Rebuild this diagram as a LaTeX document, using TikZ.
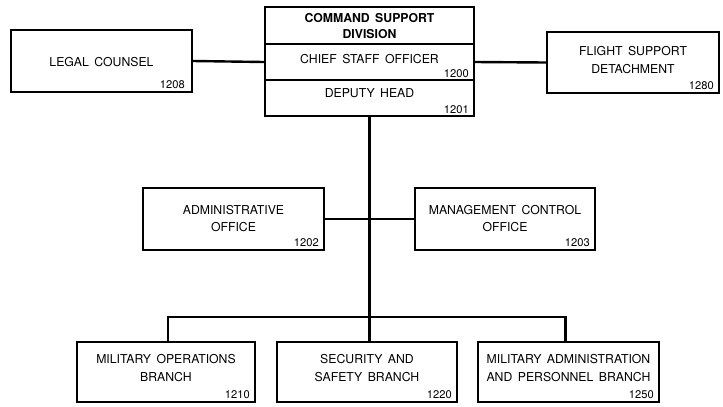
\documentclass[tikz,border=0pt]{standalone}
\usepackage{fontspec}
\setmainfont{TeX Gyre Heros}[WordSpace={1.6,1,1}]
\begin{document}
\begin{tikzpicture}[x=1bp,y=-1bp,
  box/.style={draw=black,line width=2bp,rectangle,inner sep=0pt},
  lbl/.style={align=center,inner sep=0pt,font=\fontsize{12.3}{17.5}\selectfont},
  ttl/.style={align=center,inner sep=0pt,font=\fontsize{12.3}{17}\selectfont\bfseries},
  num/.style={anchor=south east,inner sep=0pt,font=\fontsize{11.2}{12}\selectfont},
  conn/.style={draw=black,line width=2.4bp}]
\useasboundingbox (0,0) rectangle (723,406);
% top stacked box
\node[box,minimum width=209bp,minimum height=37bp] (csd) at (369.5,25.5) {};
\node[box,minimum width=209bp,minimum height=36bp] (cso) at (369.5,62) {};
\node[box,minimum width=209bp,minimum height=36bp] (dep) at (369.5,98) {};
\node[ttl] (csdt) at (369.5,26) {COMMAND SUPPORT\\DIVISION};
\node[lbl] (csot) at (369.5,59) {CHIEF STAFF OFFICER};
\node[num] (cson) at ([xshift=-6bp,yshift=3bp]cso.south east) {1200};
\node[lbl] (dept) at (369.5,93) {DEPUTY HEAD};
\node[num] (depn) at ([xshift=-6bp,yshift=3bp]dep.south east) {1201};
% side boxes
\node[box,minimum width=181bp,minimum height=62bp] (legal) at (101.5,61) {};
\node[lbl] (legalt) at (101.5,62) {LEGAL COUNSEL};
\node[num] (legaln) at ([xshift=-8bp,yshift=4bp]legal.south east) {1208};
\node[box,minimum width=172bp,minimum height=61bp] (flight) at (633,62.5) {};
\node[lbl] (flightt) at (633,60) {FLIGHT SUPPORT\\DETACHMENT};
\node[num] (flightn) at ([xshift=-6bp,yshift=4bp]flight.south east) {1280};
% middle boxes
\node[box,minimum width=181bp,minimum height=62bp] (admin) at (233.5,219) {};
\node[lbl] (admint) at (233.5,218.5) {ADMINISTRATIVE\\OFFICE};
\node[num] (adminn) at ([xshift=-6bp,yshift=4bp]admin.south east) {1202};
\node[box,minimum width=180bp,minimum height=62bp] (mgmt) at (505,219) {};
\node[lbl] (mgmtt) at (505,218.5) {MANAGEMENT CONTROL\\OFFICE};
\node[num] (mgmtn) at ([xshift=-6bp,yshift=4bp]mgmt.south east) {1203};
% bottom boxes
\node[box,minimum width=178bp,minimum height=60bp] (milops) at (166,372) {};
\node[lbl] (milopst) at (166,368) {MILITARY OPERATIONS\\BRANCH};
\node[num] (milopsn) at ([xshift=-6bp,yshift=4bp]milops.south east) {1210};
\node[box,minimum width=180bp,minimum height=60bp] (sec) at (367,372) {};
\node[lbl] (sect) at (367,368) {SECURITY AND\\SAFETY BRANCH};
\node[num] (secn) at ([xshift=-6bp,yshift=4bp]sec.south east) {1220};
\node[box,minimum width=181bp,minimum height=60bp] (miladm) at (568.5,372) {};
\node[lbl] (miladmt) at (568.5,368) {MILITARY ADMINISTRATION\\AND PERSONNEL BRANCH};
\node[num] (miladmn) at ([xshift=-6bp,yshift=4bp]miladm.south east) {1250};
% connectors
\draw[conn] (legal.east) -- (cso.west);
\draw[conn] (cso.east) -- (flight.west);
\draw[conn] (dep.south) -- (dep.south |- sec.north);
\draw[conn] (admin.east) -- (mgmt.west);
\coordinate (busl) at ([xshift=2bp,yshift=24bp]milops.north);
\coordinate (busr) at ([xshift=-3bp,yshift=24bp]miladm.north);
\draw[conn] (busl |- milops.north) -- (busl) -- (busr) -- (busr |- miladm.north);
\end{tikzpicture}
\end{document}
